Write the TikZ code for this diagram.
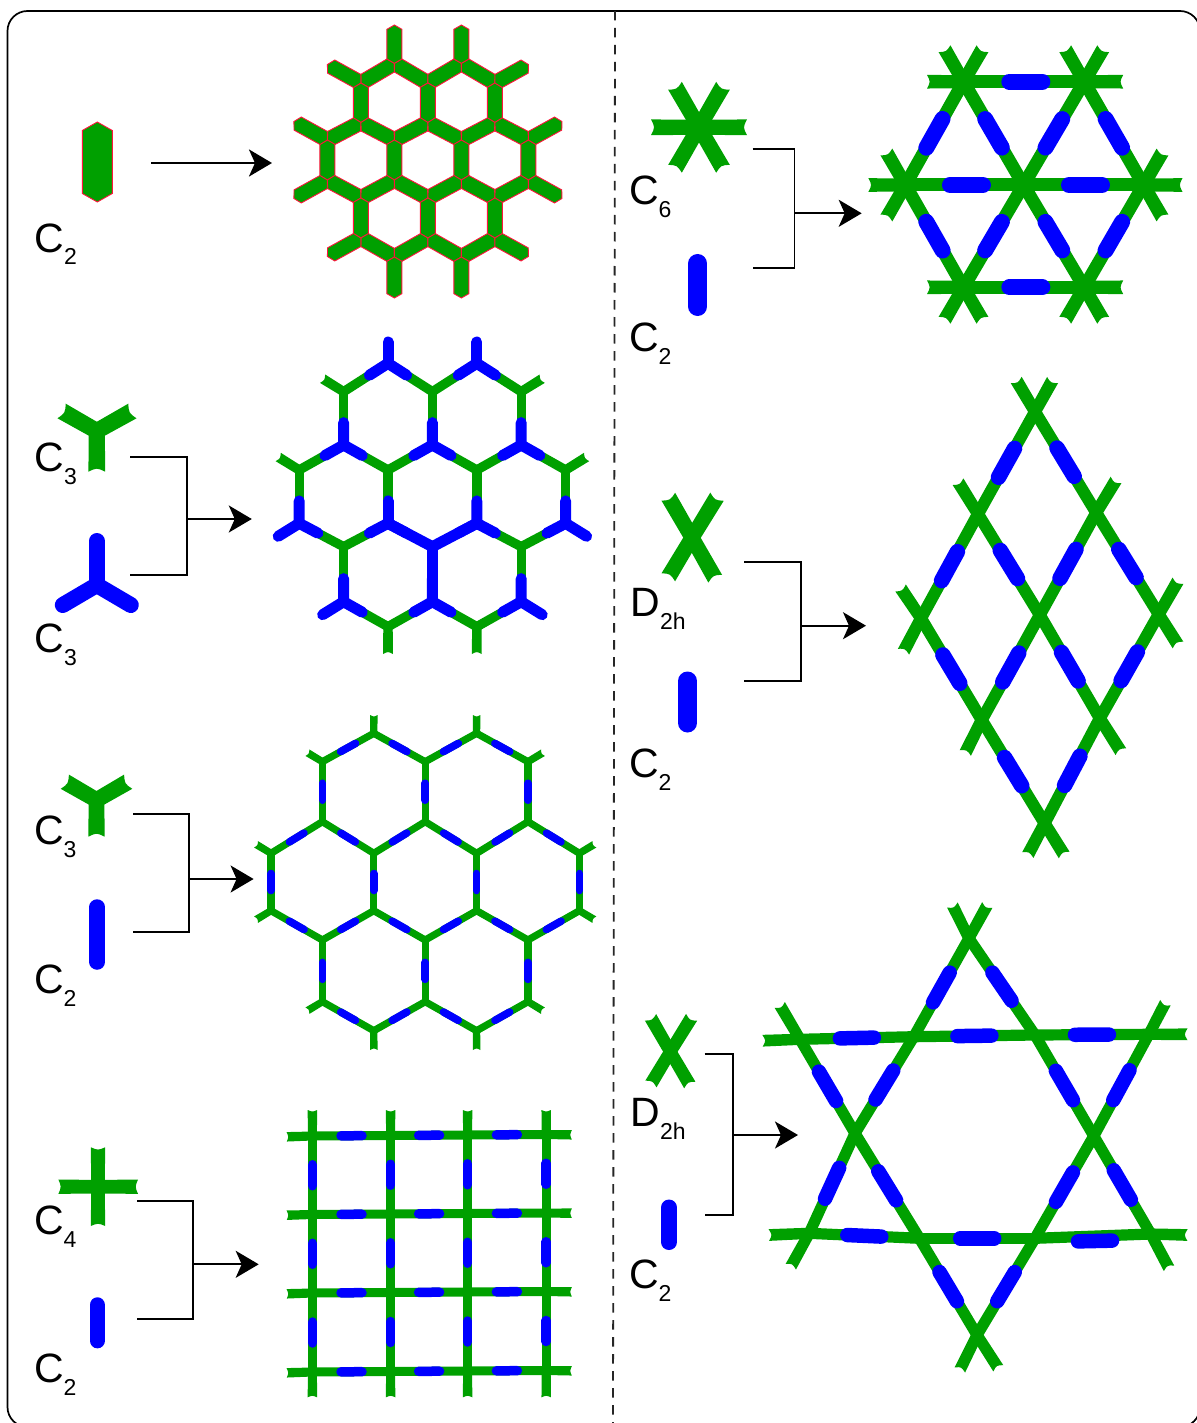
\documentclass[tikz,border=0pt]{standalone}
\usepackage{fontspec}
\setmainfont{Liberation Sans}
\usetikzlibrary{calc,arrows.meta}
\definecolor{grn}{RGB}{0,160,0}
\definecolor{blu}{RGB}{0,0,255}
\definecolor{redl}{RGB}{255,20,60}
\newcommand\lbl[2]{#1\raisebox{-13pt}{\fontsize{23}{23}\selectfont #2}}
\tikzset{
  lab/.style={anchor=base west,inner sep=0pt,outer sep=0pt,font=\fontsize{41}{41}\selectfont},
  brk/.style={draw=black,line width=1.9pt,line join=miter},
  arw/.style={draw=black,line width=2.1pt,-{Stealth[length=23pt,width=27pt,inset=6pt]}},
  gline/.style={draw=grn,line width=2*\gh pt,line join=miter},
  bline/.style={draw=blu,line cap=round,line width=\bw pt},
  cell/.style={fill=grn,draw=redl,line width=0.9pt,line join=miter}
}
% green arm with a concave free end, from #1 to #2
\newcommand\gstub[2]{%
  \fill[grn] (#1) circle ({\gh pt});
  \fill[grn] ($(#1)!\gh pt!90:(#2)$) -- ($(#2)!1.05*\gh pt!-90:(#1)$)
    .. controls ($(#2)!\gdp pt!(#1)$) .. ($(#2)!1.05*\gh pt!90:(#1)$)
    -- ($(#1)!\gh pt!-90:(#2)$) -- cycle;}
% pointed bar with red outline
\newcommand\hexbar[4]{%
  \coordinate (pa) at ($(#1)!#4pt!(#2)$);
  \coordinate (pb) at ($(#2)!#4pt!(#1)$);
  \path[cell] (#1) -- ($(pa)!#3pt!90:(#2)$) -- ($(pb)!#3pt!-90:(#1)$) -- (#2)
    -- ($(pb)!#3pt!90:(#1)$) -- ($(pa)!#3pt!-90:(#2)$) -- cycle;}
% blue dash at the midpoint of the edge
\newcommand\bluemid[3]{%
  \coordinate (mm) at ($(#1)!.5!(#2)$);
  \draw[bline] ($(mm)!#3pt!(#1)$) -- ($(mm)!#3pt!(#2)$);}
\newcommand\hexcoords[5]{%
  \foreach \yy [count=\k from 0] in {#3} {\expandafter\xdef\csname LL\k\endcsname{\yy}}
  \foreach \uu/\ll in {-1/1,1/1,-2/2,0/2,2/2,-2/3,0/3,2/3,-3/4,-1/4,1/4,3/4,-3/5,-1/5,1/5,3/5,-2/6,0/6,2/6,-2/7,0/7,2/7,-1/8,1/8}{
    \pgfmathsetmacro\xx{#1+\uu*#2}
    \pgfmathsetmacro\yv{\csname LL\ll\endcsname}
    \coordinate (v\uu_\ll) at (\xx,\yv);}
  \pgfmathsetmacro\xl{#1-#2}\pgfmathsetmacro\xr{#1+#2}
  \coordinate (ta) at (\xl,\LLzero);
  \coordinate (tb) at (\xr,\LLzero);
  \coordinate (tk) at (\xl,\LLnine);
  \coordinate (tl) at (\xr,\LLnine);
  \coordinate (tc) at ($(v-2_2)+(-#4,-#5)$);
  \coordinate (td) at ($(v2_2)+(#4,-#5)$);
  \coordinate (te) at ($(v-3_4)+(-#4,-#5)$);
  \coordinate (tf) at ($(v3_4)+(#4,-#5)$);
  \coordinate (tg) at ($(v-3_5)+(-#4,#5)$);
  \coordinate (th) at ($(v3_5)+(#4,#5)$);
  \coordinate (ti) at ($(v-2_7)+(-#4,#5)$);
  \coordinate (tj) at ($(v2_7)+(#4,#5)$);}
\def\hexedges{-1_1/-2_2,-1_1/0_2,1_1/0_2,1_1/2_2,-2_3/-2_2,0_3/0_2,2_3/2_2,-2_3/-3_4,-2_3/-1_4,0_3/-1_4,0_3/1_4,2_3/1_4,2_3/3_4,-3_5/-3_4,-1_5/-1_4,1_5/1_4,3_5/3_4,-3_5/-2_6,-1_5/-2_6,-1_5/0_6,1_5/0_6,1_5/2_6,3_5/2_6,-2_7/-2_6,0_7/0_6,2_7/2_6,-2_7/-1_8,0_7/-1_8,0_7/1_8,2_7/1_8}
\def\hexstubs{-1_1/ta,1_1/tb,-2_2/tc,2_2/td,-3_4/te,3_4/tf,-3_5/tg,3_5/th,-2_7/ti,2_7/tj,-1_8/tk,1_8/tl}
\begin{document}
\begin{tikzpicture}[x=1pt,y=-1pt]
\useasboundingbox (0,0) rectangle (1196,1423);
\fill[white] (0,0) rectangle (1196,1423);
\draw[black,line width=1.7pt,rounded corners=20pt] (7.5,11) rectangle (1200,1427);
\coordinate (dt) at (615,11); \coordinate (db) at (613,1423);
\draw[black!85,line width=1.8pt,dash pattern=on 9.5pt off 7.5pt] (dt) -- (db);

%%% panel 1
\def\LLzero{25}\def\LLnine{298}
\hexcoords{427.9}{33.5}{25,63.3,83,122.5,140,180,198,238,257,298}{33.5}{18.5}
\foreach \a/\b in \hexedges {\hexbar{v\a}{v\b}{7.5}{4.3}}
\foreach \a/\b in \hexstubs {\hexbar{v\a}{\b}{7.5}{4.3}}
\coordinate (i1a) at (97.3,122); \coordinate (i1b) at (97.3,202);
\hexbar{i1a}{i1b}{15}{8.5}
\node[lab] (l1) at (34.5,252) {\lbl{C}{2}};
\coordinate (a1s) at (151,163); \coordinate (a1e) at (272,163);
\draw[arw,line width=2.9pt] (a1s) -- (a1e);

%%% panel 2
\def\LLzero{342}\def\LLnine{654}
\hexcoords{432.4}{44.4}{342,363.3,391.7,445,470,523.3,546.7,601.7,626.7,654}{21}{13}
\def\gh{4.7}\def\gdp{2.5}\def\bw{11}
\foreach \a/\b in \hexedges {\draw[gline,line cap=round] (v\a) -- (v\b);}
\foreach \a/\b in {-2_2/tc,2_2/td,-3_4/te,3_4/tf,-1_8/tk,1_8/tl} {\gstub{v\a}{\b}}
\foreach \a/\b in \hexedges {\draw[bline] (v\a) -- ($(v\a)!.42!(v\b)$);}
\foreach \a/\b in {-1_5/0_6,1_5/0_6,0_7/0_6} {\draw[bline] (v\a) -- (v\b);}
\foreach \a/\b in {-1_1/ta,1_1/tb,-3_5/tg,3_5/th,-2_7/ti,2_7/tj} {\draw[bline] (v\a) -- (\b);}
% icons
\def\gh{8}\def\gdp{4}
\coordinate (i2c) at (96.8,431);
\coordinate (i2a) at (61.6,411); \coordinate (i2b) at (132.4,411); \coordinate (i2d) at (96.8,471.7);
\gstub{i2c}{i2a}\gstub{i2c}{i2b}\gstub{i2c}{i2d}
\node[lab] (l2a) at (34.5,471.5) {\lbl{C}{3}};
\coordinate (i2e) at (96.8,585);
\coordinate (i2f) at (96.8,541); \coordinate (i2g) at (62.8,605); \coordinate (i2h) at (130.8,605);
\def\bw{16}
\draw[bline] (i2e) -- (i2f); \draw[bline] (i2e) -- (i2g); \draw[bline] (i2e) -- (i2h);
\node[lab] (l2b) at (34.5,652.5) {\lbl{C}{3}};
\coordinate (b2a) at (130,456.7); \coordinate (b2b) at (186.8,456.7);
\coordinate (b2c) at (186.8,575); \coordinate (b2d) at (130,575);
\draw[brk] (b2a) -- (b2b) -- (b2c) -- (b2d);
\coordinate (a2s) at (186.8,519); \coordinate (a2e) at (251.8,519);
\draw[arw] (a2s) -- (a2e);

%%% panel 3
\def\LLzero{715}\def\LLnine{1050}
\hexcoords{425.2}{51.4}{715,733.3,761.7,821.7,853.3,910.7,940,1001.7,1030.7,1050}{15}{9}
\def\gh{3.6}\def\gdp{2}\def\bw{7.6}
\foreach \a/\b in \hexedges {\draw[gline,line cap=round] (v\a) -- (v\b);}
\foreach \a/\b in \hexstubs {\gstub{v\a}{\b}}
\foreach \a/\b in \hexedges {\bluemid{v\a}{v\b}{8.5}}
\def\gh{7.8}\def\gdp{4}
\coordinate (i3c) at (96.5,800);
\coordinate (i3a) at (64.8,781.7); \coordinate (i3b) at (128.2,781.7); \coordinate (i3d) at (96.5,836.7);
\gstub{i3c}{i3a}\gstub{i3c}{i3b}\gstub{i3c}{i3d}
\node[lab] (l3a) at (34,844) {\lbl{C}{3}};
\def\bw{15.5}
\coordinate (i3e) at (97.2,907); \coordinate (i3f) at (97.2,962);
\draw[bline] (i3e) -- (i3f);
\node[lab] (l3b) at (34,993) {\lbl{C}{2}};
\coordinate (b3a) at (133,814.3); \coordinate (b3b) at (189.4,814.3);
\coordinate (b3c) at (189.4,931.7); \coordinate (b3d) at (133,931.7);
\draw[brk] (b3a) -- (b3b) -- (b3c) -- (b3d);
\coordinate (a3s) at (189.4,879); \coordinate (a3e) at (253.6,879);
\draw[arw] (a3s) -- (a3e);

%%% panel 4
\def\gh{4.5}\def\gdp{2}\def\bw{9.5}
\foreach \i/\xv in {0/312.4,1/390.6,2/467.6,3/546.2}{
  \foreach \j/\yv in {0/1136,1/1214.5,2/1293,3/1372}{
    \pgfmathsetmacro\yy{\yv-0.5*\i}
    \coordinate (g\i\j) at (\xv,\yy);}
  \coordinate (gt\i) at (\xv,1110);
  \coordinate (gb\i) at (\xv,1397.3);
  \gstub{g\i0}{gt\i}\gstub{g\i3}{gb\i}
  \draw[gline] (g\i0) -- (g\i3);
}
\foreach \j/\yv in {0/1136.8,1/1215.2,2/1293.8,3/1372.8}{
  \coordinate (gl\j) at (286.7,\yv);
  \pgfmathsetmacro\yy{\yv-2}
  \coordinate (gr\j) at (571.8,\yy);
  \gstub{g0\j}{gl\j}\gstub{g3\j}{gr\j}
  \draw[gline] (g0\j) -- (g3\j);
}
\foreach \i [evaluate=\i as \n using int(\i+1)] in {0,1,2}{
  \foreach \j in {0,1,2,3}{\bluemid{g\i\j}{g\n\j}{10.5}}}
\foreach \j [evaluate=\j as \n using int(\j+1)] in {0,1,2}{
  \foreach \i in {0,1,2,3}{\bluemid{g\i\j}{g\i\n}{10.5}}}
\def\gh{6.8}\def\gdp{3}
\coordinate (i4c) at (98,1186.7);
\coordinate (i4t) at (98,1147.3); \coordinate (i4d) at (98,1226);
\coordinate (i4l) at (58.4,1186.7); \coordinate (i4r) at (138,1186.7);
\gstub{i4c}{i4t}\gstub{i4c}{i4d}\gstub{i4c}{i4l}\gstub{i4c}{i4r}
\node[lab] (l4a) at (34,1234) {\lbl{C}{4}};
\def\bw{15.5}
\coordinate (i4e) at (97.3,1305); \coordinate (i4f) at (97.3,1340.6);
\draw[bline] (i4e) -- (i4f);
\node[lab] (l4b) at (34,1382.5) {\lbl{C}{2}};
\coordinate (b4a) at (137.3,1201); \coordinate (b4b) at (193.3,1201);
\coordinate (b4c) at (193.3,1319.3); \coordinate (b4d) at (137.3,1319.3);
\draw[brk] (b4a) -- (b4b) -- (b4c) -- (b4d);
\coordinate (a4s) at (193.3,1264.3); \coordinate (a4e) at (258.7,1264.3);
\draw[arw] (a4s) -- (a4e);

%%% panel 5
\def\gh{6.5}\def\gdp{3.5}\def\bw{16}
\coordinate (p1) at (963.5,81.7); \coordinate (p2) at (1084.2,81.7);
\coordinate (p3) at (905.4,185); \coordinate (p4) at (1023.5,185); \coordinate (p5) at (1143.5,185);
\coordinate (p6) at (963.5,287.3); \coordinate (p7) at (1084.2,287.3);
\foreach \a/\b in {p1/p2,p3/p4,p4/p5,p6/p7,p1/p3,p1/p4,p2/p4,p2/p5,p3/p6,p4/p6,p4/p7,p5/p7}{\draw[gline] (\a) -- (\b);}
\foreach \a/\dx/\dy [count=\c] in {p1/-19/-33,p1/19/-33,p1/-36.5/0,p2/-19/-33,p2/19/-33,p2/39/0,p3/-37/0,p3/-19/-33,p3/-19/33,p5/39/0,p5/19/-33,p5/19/33,p6/-36.5/0,p6/-19/33,p6/19/33,p7/39/0,p7/-19/33,p7/19/33}{
  \coordinate (s\c) at ($(\a)+(\dx,\dy)$);
  \gstub{\a}{s\c}}
\foreach \a/\b in {p1/p3,p1/p4,p2/p4,p2/p5,p3/p6,p4/p6,p4/p7,p5/p7}{\bluemid{\a}{\b}{16.5}}
\foreach \a/\b in {p1/p2,p3/p4,p4/p5,p6/p7}{
  \coordinate (xa) at ($(\a)+(2,0)$); \coordinate (xb) at ($(\b)+(2,0)$);
  \bluemid{xa}{xb}{16.5}}
\def\gh{7.5}\def\gdp{4}
\coordinate (i5c) at (699,127.3);
\foreach \dx/\dy [count=\c] in {48/0,-48/0,24/-41.5,-24/-41.5,24/41.5,-24/41.5}{
  \coordinate (i5t\c) at ($(i5c)+(\dx,\dy)$);
  \gstub{i5c}{i5t\c}}
\node[lab] (l5a) at (629,205) {\lbl{C}{6}};
\def\bw{19}
\coordinate (i5e) at (697.7,263.5); \coordinate (i5f) at (697.7,306.5);
\draw[bline] (i5e) -- (i5f);
\node[lab] (l5b) at (629,351) {\lbl{C}{2}};
\coordinate (b5a) at (752.7,149.3); \coordinate (b5b) at (794.5,149.3);
\coordinate (b5c) at (794.5,268.3); \coordinate (b5d) at (752.7,268.3);
\draw[brk] (b5a) -- (b5b) -- (b5c) -- (b5d);
\coordinate (a5s) at (794.5,213.3); \coordinate (a5e) at (861.7,213.3);
\draw[arw] (a5s) -- (a5e);

%%% panel 6
\def\gh{6}\def\gdp{3.5}\def\bw{15.5}
\coordinate (r1) at (1035,411.7);
\coordinate (r2) at (978,514); \coordinate (r3) at (1096.2,512.7);
\coordinate (r4) at (921,618.3); \coordinate (r5) at (1039.8,615); \coordinate (r6) at (1158.7,614.3);
\coordinate (r7) at (981.7,720); \coordinate (r8) at (1099.8,718.3);
\coordinate (r9) at (1044.6,823.3);
\def\rhomb{r1/r2,r1/r3,r2/r4,r2/r5,r3/r5,r3/r6,r4/r7,r5/r7,r5/r8,r6/r8,r7/r9,r8/r9}
\foreach \a/\b in \rhomb {\draw[gline] (\a) -- (\b);}
\foreach \a/\xx/\yy [count=\c] in {r1/1016.2/380,r1/1052.6/380,r2/958/481.7,r3/1116/480,r4/900.6/588,r4/903.5/651.7,r6/1178/580.7,r6/1178/645,r7/965.3/753,r8/1120.9/751.7,r9/1027.8/855,r9/1064.2/855}{
  \coordinate (u\c) at (\xx,\yy);
  \gstub{\a}{u\c}}
\foreach \a/\b in \rhomb {\bluemid{\a}{\b}{16.5}}
\def\gh{7.5}\def\gdp{4}
\coordinate (i6c) at (692,537.7);
\foreach \xx/\yy [count=\c] in {668.3/496.7,717/496.7,668.3/577.3,715.2/578.7}{
  \coordinate (i6t\c) at (\xx,\yy);
  \gstub{i6c}{i6t\c}}
\node[lab] (l6a) at (630.5,616) {\lbl{D}{2h}};
\def\bw{19}
\coordinate (i6e) at (687.6,681); \coordinate (i6f) at (687.6,723);
\draw[bline] (i6e) -- (i6f);
\node[lab] (l6b) at (629,777) {\lbl{C}{2}};
\coordinate (b6a) at (744.3,562.3); \coordinate (b6b) at (800.7,562.3);
\coordinate (b6c) at (800.7,681); \coordinate (b6d) at (744.3,681);
\draw[brk] (b6a) -- (b6b) -- (b6c) -- (b6d);
\coordinate (a6s) at (800.7,625.7); \coordinate (a6e) at (866,625.7);
\draw[arw] (a6s) -- (a6e);

%%% panel 7
\def\gh{5.6}\def\gdp{3.5}\def\bw{14.5}
\coordinate (k1) at (968.9,938.3);
\coordinate (k2) at (800,1039.3); \coordinate (k3) at (913.8,1036.7);
\coordinate (k4) at (1035,1035); \coordinate (k5) at (1148.9,1034.3);
\coordinate (k6) at (855,1133.3); \coordinate (k7) at (1093.8,1136);
\coordinate (k8) at (809.2,1233.3); \coordinate (k9) at (919.4,1238.3);
\coordinate (k10) at (1035,1238.3); \coordinate (k11) at (1150.8,1234);
\coordinate (k12) at (977,1335);
\coordinate (kb1) at (1072,1241.5); \coordinate (kb2) at (1118,1240.5);
\foreach \a/\b in {k1/k3,k3/k6,k6/k8,k1/k4,k4/k7,k7/k11,k2/k6,k6/k9,k9/k12,k5/k7,k7/k10,k10/k12,k2/k3,k3/k4,k4/k5,k8/k9,k9/k10,k10/k11}{\draw[gline,line cap=round] (\a) -- (\b);}
\foreach \a/\xx/\yy [count=\c] in {k1/952.4/905,k1/987.3/905,k2/779.8/1005,k5/1165.4/1002.7,k8/790.8/1266.7,k11/1169/1268.3,k12/959.8/1370,k12/998.3/1368.3,k2/762.5/1040.7,k5/1187.5/1034.3,k8/768.8/1235,k11/1187.5/1235}{
  \coordinate (w\c) at (\xx,\yy);
  \gstub{\a}{w\c}}
\foreach \a/\b in {k1/k3,k1/k4,k2/k6,k3/k6,k4/k7,k5/k7,k6/k8,k6/k9,k7/k10,k7/k11,k9/k12,k10/k12,k2/k3,k3/k4,k4/k5,k8/k9,k9/k10}{\bluemid{\a}{\b}{17}}
\bluemid{kb1}{kb2}{17}
\def\gh{6.2}\def\gdp{3.5}
\coordinate (i7c) at (670.3,1051.7);
\foreach \xx/\yy [count=\c] in {650.5/1017.3,691.6/1017.3,650.9/1084,689.8/1085}{
  \coordinate (i7t\c) at (\xx,\yy);
  \gstub{i7c}{i7t\c}}
\node[lab] (l7a) at (630.5,1126.5) {\lbl{D}{2h}};
\def\bw{16}
\coordinate (i7e) at (669,1207.5); \coordinate (i7f) at (669,1242);
\draw[bline] (i7e) -- (i7f);
\node[lab] (l7b) at (629,1288) {\lbl{C}{2}};
\coordinate (b7a) at (704.5,1054.3); \coordinate (b7b) at (733,1054.3);
\coordinate (b7c) at (733,1215); \coordinate (b7d) at (704.5,1215);
\draw[brk] (b7a) -- (b7b) -- (b7c) -- (b7d);
\coordinate (a7s) at (733,1135); \coordinate (a7e) at (798,1135);
\draw[arw] (a7s) -- (a7e);
\end{tikzpicture}
\end{document}
